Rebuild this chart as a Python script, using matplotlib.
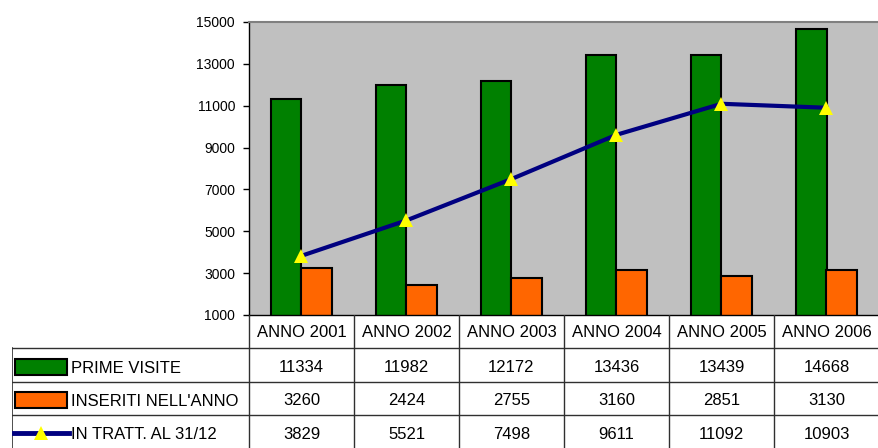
import numpy as np
import matplotlib.pyplot as plt
from matplotlib.patches import Rectangle
from matplotlib.lines import Line2D

plt.rcParams['font.family'] = ['Liberation Sans', 'DejaVu Sans']

anni = ['ANNO 2001', 'ANNO 2002', 'ANNO 2003', 'ANNO 2004', 'ANNO 2005', 'ANNO 2006']
prime_visite = [11334, 11982, 12172, 13436, 13439, 14668]
inseriti = [3260, 2424, 2755, 3160, 2851, 3130]
in_tratt = [3829, 5521, 7498, 9611, 11092, 10903]
serie = ['PRIME VISITE', "INSERITI NELL'ANNO", 'IN TRATT. AL 31/12']

verde = '#008000'
arancio = '#FF6600'
blu = '#000080'
giallo = '#FFFF00'

W, H = 879, 448
fig = plt.figure(figsize=(W / 100, H / 100), dpi=100)

# plot area in pixels: x 249..879, y 22..315
ax = fig.add_axes([249 / W, (H - 315) / H, 630 / W, 293 / H])
ax.set_facecolor('#C0C0C0')
x = np.arange(len(anni))
bw = 0.29
ax.bar(x - bw / 2, prime_visite, bw, color=verde, edgecolor='black', linewidth=1.5, zorder=2)
ax.bar(x + bw / 2, inseriti, bw, color=arancio, edgecolor='black', linewidth=1.5, zorder=2)
ax.plot(x, in_tratt, color=blu, lw=3, marker='^', ms=10, mfc=giallo, mec=giallo, mew=0, zorder=3)
ax.set_xlim(-0.5, 5.5)
ax.set_ylim(1000, 15000)
ax.set_yticks(range(1000, 15001, 2000))
ax.set_xticks([])
ax.tick_params(axis='y', direction='out', length=4, width=1, labelsize=10, pad=6)
ax.spines['right'].set_visible(False)
ax.spines['top'].set_color('#808080')
ax.spines['top'].set_linewidth(1.5)
ax.spines['left'].set_linewidth(1)
ax.spines['bottom'].set_linewidth(1)

# data table: x 12..879, y 315..448
tab = fig.add_axes([12 / W, 0, (W - 12) / W, (H - 315) / H])
x0 = -0.5 - (249 - 12) / 105
tab.set_xlim(x0, 5.5)
tab.set_ylim(4, 0)
tab.axis('off')
lc = '#303030'
for r in (1, 2, 3):
    tab.plot([x0, 5.5], [r, r], color=lc, lw=1)
tab.plot([x0, x0], [1, 4], color=lc, lw=1.2)
for b in np.arange(-0.5, 5, 1.0):
    tab.plot([b, b], [0, 4], color=lc, lw=1)

for i, a in enumerate(anni):
    tab.text(i, 0.52, a, ha='center', va='center', fontsize=12)
for r, vals in enumerate([prime_visite, inseriti, in_tratt]):
    for i, v in enumerate(vals):
        tab.text(i, r + 1.58, str(v), ha='center', va='center', fontsize=12)

def px(p):
    return -0.5 - (249 - p) / 105

kh = 16 / 33.25
for r, col in ((1, verde), (2, arancio)):
    tab.add_patch(Rectangle((px(15), r + 0.55 - kh / 2), px(67) - px(15), kh,
                            facecolor=col, edgecolor='black', lw=1.5))
tab.add_line(Line2D([px(14), px(69)], [3.55, 3.55], color=blu, lw=3.5))
tab.plot([px(41)], [3.55], marker='^', ms=10, mfc=giallo, mec=giallo, mew=0)
for r, s in enumerate(serie):
    tab.text(px(71), r + 1.6, s, ha='left', va='center', fontsize=12)

fig.savefig('out.png', dpi=100)
